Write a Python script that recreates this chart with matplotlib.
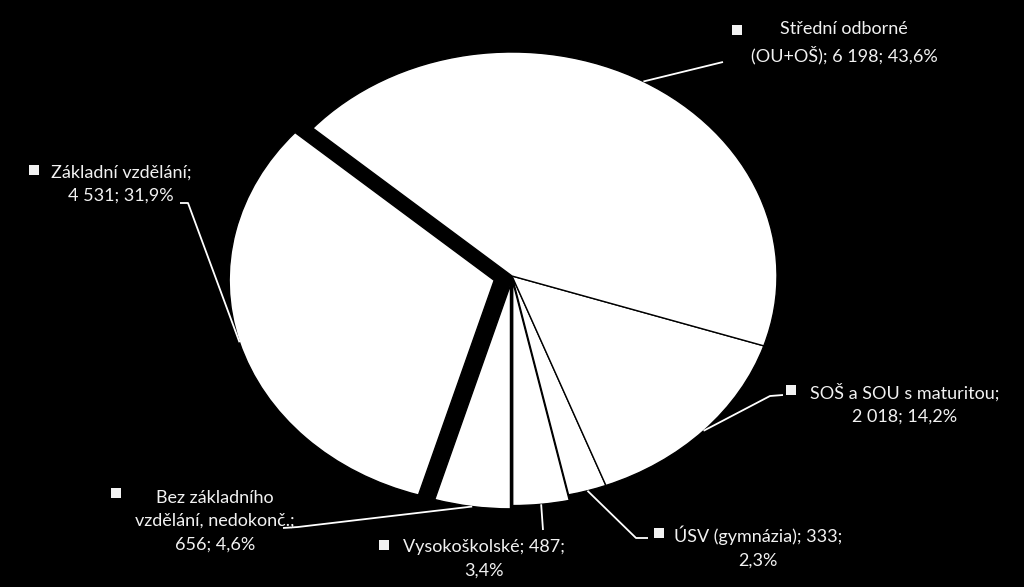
import numpy as np
import matplotlib
matplotlib.use("Agg")
import matplotlib.pyplot as plt
from matplotlib.patches import Rectangle

# data, counterclockwise from 6 o'clock
kategorie = ["Vysokoškolské", "ÚSV (gymnázia)", "SOŠ a SOU s maturitou",
             "Střední odborné (OU+OŠ)", "Základní vzdělání", "Bez základního vzdělání, nedokonč."]
pocty = [487, 333, 2018, 6198, 4531, 656]
podily = ["3,4%", "2,3%", "14,2%", "43,6%", "31,9%", "4,6%"]
popisky = [
    "Vysokoškolské; 487;\n3,4%",
    "ÚSV (gymnázia); 333;\n2,3%",
    "SOŠ a SOU s maturitou;\n2 018; 14,2%",
    "Střední odborné\n(OU+OŠ); 6 198; 43,6%",
    "Základní vzdělání;\n4 531; 31,9%",
    "Bez základního\nvzdělání, nedokonč.;\n656; 4,6%",
]
vysunuti = [0.025, 0.0, 0.0, 0.0, 0.07, 0.04]

W, H = 1024, 587
CX, CY = 512, 276      # pie centre in pixels (from top)
RX, RY = 265, 224      # ellipse half axes in pixels

# label layout in pixels (from top): text centre, square centre, leader points
text_pos = [(484, 559), (758, 547), (905, 404), (844, 43), (121, 184), (215, 521)]
sq_pos = [(384, 545), (659, 533), (791, 390), (737, 30), (34, 170), (116, 493)]
leader = [[(543, 530)], [(648, 538), (636, 538)], [(783, 395), (770, 396)],
          [(723, 62)], [(180, 203), (188, 203)], [(283, 528), (298, 527)]]

fig = plt.figure(figsize=(W / 100, H / 100), dpi=100, facecolor="black")
ax = fig.add_axes([0, 0, 1, 1])
ax.set_facecolor("black")

wedges, _ = ax.pie(pocty, startangle=270, counterclock=True,
                   colors=["white"] * len(pocty), explode=vysunuti,
                   wedgeprops=dict(edgecolor="black", linewidth=1.0))
ax.set_aspect("auto")
ax.set_xlim(-CX / RX, (W - CX) / RX)
ax.set_ylim(-(H - CY) / RY, CY / RY)
ax.axis("off")


def px2data(p):
    return (p[0] - CX) / RX, (CY - p[1]) / RY


font = ["Lato", "DejaVu Sans"]
for w, txt, tp, sp, lp in zip(wedges, popisky, text_pos, sq_pos, leader):
    mid = np.deg2rad((w.theta1 + w.theta2) / 2)
    ex = w.center[0] + w.r * np.cos(mid)
    ey = w.center[1] + w.r * np.sin(mid)
    pts = [px2data(p) for p in lp] + [(ex, ey)]
    ax.plot([p[0] for p in pts], [p[1] for p in pts], color="white", lw=1.3,
            solid_capstyle="butt")
    fig.text(tp[0] / W, 1 - tp[1] / H, txt, ha="center", va="center",
             multialignment="center", color="#f2f2f2", fontsize=13,
             family=font, linespacing=1.55)
    s = 10
    fig.add_artist(Rectangle(((sp[0] - s / 2) / W, 1 - (sp[1] + s / 2) / H),
                             s / W, s / H, transform=fig.transFigure,
                             facecolor="#f2f2f2", edgecolor="none"))

fig.savefig("out.png", dpi=100, facecolor="black")
